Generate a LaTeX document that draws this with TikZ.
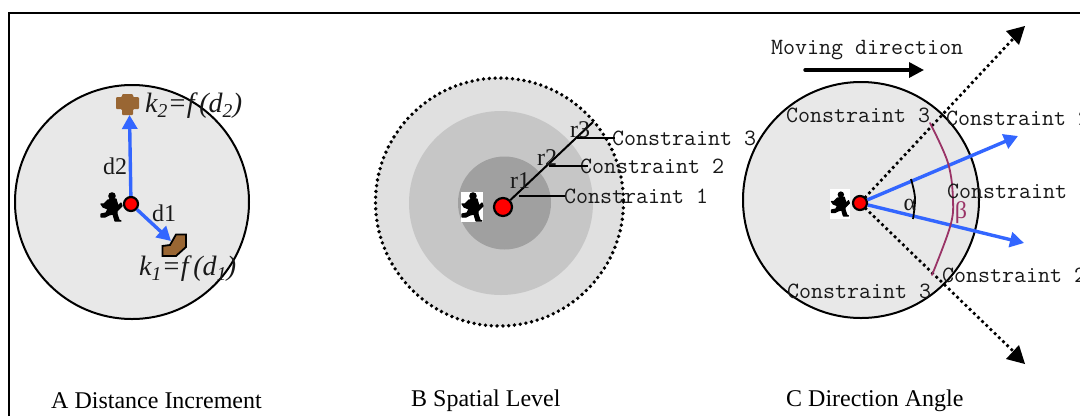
\documentclass[tikz,border=0pt]{standalone}
\usepackage{fontspec}
\setmainfont{Liberation Serif}
\usetikzlibrary{arrows.meta}
\definecolor{discfill}{RGB}{232,232,232}
\definecolor{ringa}{RGB}{224,224,224}
\definecolor{ringb}{RGB}{198,198,198}
\definecolor{ringc}{RGB}{160,160,160}
\definecolor{bluearrow}{RGB}{51,102,255}
\definecolor{plum}{RGB}{153,51,102}
\definecolor{brownk}{RGB}{153,102,51}
\tikzset{
  x=1pt,y=-1pt,
  disc/.style={circle,draw=black,line width=2pt,fill=discfill,inner sep=0pt,minimum size=#1},
  ringdisc/.style={circle,inner sep=0pt,minimum size=#1},
  dotline/.style={line width=3.8pt,line cap=round,dash pattern=on 0pt off 5.8pt},
  reddot/.style={circle,draw=black,line width=2.2pt,fill=red,inner sep=0pt,minimum size=#1},
  bluearr/.style={draw=bluearrow,line width=3.4pt,-{Triangle[length=14pt,width=15pt]}},
  blackarr/.style={-{Triangle[length=15pt,width=15pt]}},
  mono/.style={font=\ttfamily\fontsize{23.3}{24}\selectfont,text=black!90,inner sep=0pt,anchor=west},
  serif/.style={font=\fontsize{24}{26}\selectfont,inner sep=0pt,text=black!90},
  kform/.style={font=\itshape\fontsize{28}{30}\selectfont,inner sep=0pt,anchor=west,text=black!90},
  captext/.style={font=\fontsize{24}{26}\selectfont,inner sep=0pt,anchor=west},
  whitebox/.style={fill=white,inner sep=0pt,minimum width=#1,minimum height=30pt},
  leader/.style={line width=2pt},
  runner/.pic={
    \fill[black] (1,-11) circle (3.8);
    \filldraw[black,line width=1.2pt,line join=round] (-3,-7) -- (5,-8) -- (7,-1) -- (10,-4) -- (11,-1) -- (6,4) -- (6,7) -- (8,13) -- (10,14) -- (4,14) -- (2,7) -- (-2,8) -- (-6,10) -- (-10,10) -- (-10,7) -- (-5,6) -- (-3,2) -- (-8,0) -- (-10,-3) -- (-7,-3) -- cycle;
  }
}
\begin{document}
\begin{tikzpicture}
\useasboundingbox (0,0) rectangle (1080,416);
\begin{scope}
\clip (0,0) rectangle (1080,416);
\fill[white] (0,0) rectangle (1080,416);
% frame
\coordinate (fbl) at (9,416);
\coordinate (ftl) at (9,13);
\coordinate (ftr) at (1080,13);
\draw[line width=2.4pt] (fbl) -- (ftl) -- (ftr);

% ---------- panel A
\node[disc=234pt] (discA) at (132,202) {};
\pic at (111,207) {runner};
\node[reddot=14pt] (ca) at (131,204) {};
% k2 icon
\fill[brownk,rounded corners=1pt] (122,94) -- (133,94) -- (133,97) -- (139,97) -- (139,109) -- (133,109) -- (133,115) -- (122,115) -- (122,109) -- (116,109) -- (116,97) -- (122,97) -- cycle;
\coordinate (k2) at (129.5,115);
\coordinate (k1) at (171,241);
\draw[bluearr] (ca) -- (k2);
\draw[bluearr] (ca) -- (k1);
% k1 icon
\draw[line width=1.8pt,fill=brownk] (176,234.5) -- (186,234.5) -- (186,247) -- (176,256) -- (162.5,256) -- (162.5,246) -- (170,245) -- cycle;
\node[serif] (d2) at (115,166) {d2};
\node[serif] (d1) at (164,213) {d1};
\node[kform] (ktwo) at (145,106) {k\textsubscript{2}=f\,(d\textsubscript{2})};
\node[kform] (kone) at (139,269) {k\textsubscript{1}=f\,(d\textsubscript{1})};
\node[captext] (capA) at (51,401) {A Distance Increment};

% ---------- panel B
\node[ringdisc=248pt,fill=ringa] (rb3) at (499.5,202) {};
\draw[dotline] (rb3.center) circle (124);
\node[ringdisc=184pt,fill=ringb] (rb2) at (501,203) {};
\node[ringdisc=93pt,fill=ringc] (rb1) at (504.5,203) {};
\node[whitebox=22pt] (wb) at (472,207) {};
\pic at (472,207) {runner};
\node[reddot=18pt] (cb) at (503,207) {};
\coordinate (rtip) at (593,122);
\draw[leader] (cb) -- (rtip);
\node[mono] (cons1) at (564,196.5) {Constraint 1};
\node[mono] (cons2) at (580,166.5) {Constraint 2};
\node[mono] (cons3) at (612,138.5) {Constraint 3};
\coordinate (l1) at (519,196);
\coordinate (l1e) at (565,196);
\coordinate (l2) at (549,165.5);
\coordinate (l2e) at (588,165.5);
\coordinate (l3) at (577,138);
\coordinate (l3e) at (615,138);
\draw[leader] (l1) -- (l1e);
\draw[leader] (l2) -- (l2e);
\draw[leader] (l3) -- (l3e);
\node[serif] (r1) at (520,181) {r1};
\node[serif] (r2) at (547,158) {r2};
\node[serif] (r3) at (580,130) {r3};
\node[captext] (capB) at (411,401) {B Spatial Level};

% ---------- panel C
\node[disc=236pt] (discC) at (861,200) {};
\node[whitebox=20pt] (wc) at (840,204) {};
\pic[scale=0.85] at (840,204) {runner};
\node[reddot=14pt] (cc) at (860,203) {};
\coordinate (dt) at (1025,26);
\coordinate (db) at (1025,364);
\coordinate (dts) at (1012,40);
\coordinate (dbs) at (1012,350);
\draw[dotline] (cc) -- (dts);
\draw[dotline] (cc) -- (dbs);
\fill (dt) -- (1006,31) -- (1019,45) -- cycle;
\fill (db) -- (1006,359) -- (1019,345) -- cycle;
\coordinate (bt) at (1018,136);
\coordinate (bb) at (1024,243);
\draw[bluearr] (cc) -- (bt);
\draw[bluearr] (cc) -- (bb);
\draw[plum,line width=1.8pt,line cap=round] plot[smooth,tension=0.6] coordinates {(930,123) (948,163) (953,200) (950,227) (932,275)};
\draw[line width=1.8pt] plot[smooth,tension=0.6] coordinates {(911,179) (915,198) (913,219)};
\node[serif] (alpha) at (910,205) {α};
\node[serif,text=plum] (beta) at (961,213) {β};
\node[mono] (c3t) at (786,115) {Constraint 3};
\node[mono] (c2t) at (946,118) {Constraint 2};
\node[mono] (c1) at (947,191) {Constraint};
\node[mono] (c2b) at (942,275) {Constraint 2};
\node[mono] (c3b) at (787,291) {Constraint 3};
\node[mono] (move) at (771,50) {Moving direction};
\coordinate (ms) at (805,70);
\coordinate (me) at (924,70);
\draw[line width=3.4pt,line cap=round,blackarr] (ms) -- (me);
\node[captext] (capC) at (786,401) {C Direction Angle};
\end{scope}
\end{tikzpicture}
\end{document}
